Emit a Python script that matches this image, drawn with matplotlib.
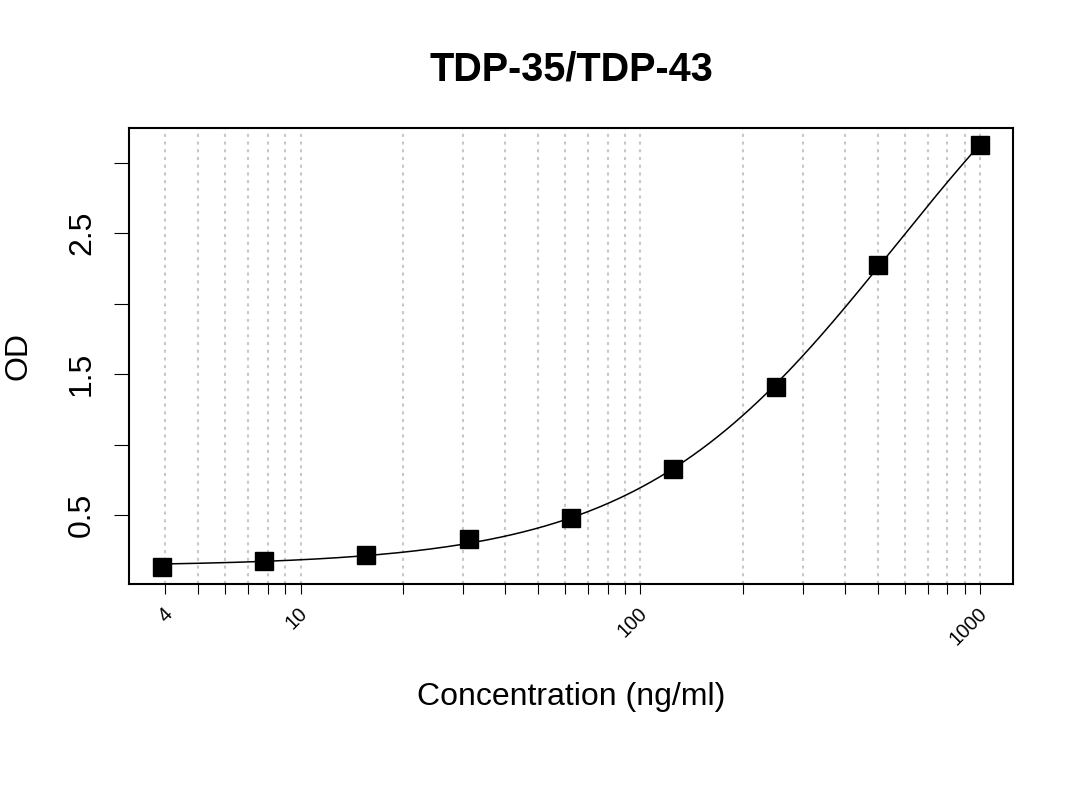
import numpy as np
import matplotlib.pyplot as plt
import matplotlib.transforms as mtrans

plt.rcParams['font.family'] = ['Liberation Sans', 'DejaVu Sans']

conc = [3.9, 7.8, 15.6, 31.25, 62.5, 125, 250, 500, 1000]
od = [0.133, 0.176, 0.218, 0.330, 0.479, 0.831, 1.411, 2.276, 3.126]

grid_x = [4, 5, 6, 7, 8, 9, 10, 20, 30, 40, 50, 60, 70, 80, 90,
          100, 200, 300, 400, 500, 600, 700, 800, 900, 1000]
x_labels = {4: '4', 10: '10', 100: '100', 1000: '1000'}
y_ticks = [0.5, 1.0, 1.5, 2.0, 2.5, 3.0]
y_labels = ['0.5', '', '1.5', '', '2.5', '']


def four_pl(p, x):
    a, b, c, d = p
    return d + (a - d) / (1 + (x / c) ** b)


def fit_4pl(x, y):
    # small Levenberg-Marquardt loop, no scipy needed
    x, y = np.asarray(x, float), np.asarray(y, float)
    p = np.array([y.min(), 1.5, 500.0, 2 * y.max()])
    lam = 1e-2
    for _ in range(500):
        r = y - four_pl(p, x)
        J = np.empty((len(x), 4))
        for k in range(4):
            dp = np.zeros(4)
            dp[k] = 1e-6 * max(abs(p[k]), 1)
            J[:, k] = (four_pl(p + dp, x) - four_pl(p, x)) / dp[k]
        A = J.T @ J
        step = np.linalg.solve(A + lam * np.diag(np.diag(A)), J.T @ r)
        pn = p + step
        if pn[2] > 0 and np.sum((y - four_pl(pn, x)) ** 2) < np.sum(r ** 2):
            p, lam = pn, lam * 0.5
        else:
            lam *= 4
    return p


fig = plt.figure(figsize=(10.8, 8.1), dpi=100)
ax = fig.add_axes([129 / 1080, 1 - 584 / 810, 884 / 1080, 456 / 810])

params = fit_4pl(conc, od)
xs = np.logspace(np.log10(conc[0]), np.log10(conc[-1]), 300)
ax.plot(xs, four_pl(params, xs), color='black', lw=1.1, zorder=3)
ax.plot(conc, od, 's', color='black', ms=12.5, zorder=4)

for g in grid_x:
    ax.axvline(g, color='#c8c8c8', lw=1.5, ls=(0, (1.5, 2.2)), zorder=1)

ax.set_xscale('log')
lo, hi = np.log10(conc[0]), np.log10(conc[-1])
pad = 0.04 * (hi - lo)
ax.set_xlim(10 ** (lo - pad), 10 ** (hi + pad))
ypad = 0.04 * (max(od) - min(od))
ax.set_ylim(min(od) - ypad, max(od) + ypad)

ax.set_xticks(grid_x)
ax.set_xticks([], minor=True)
ax.set_xticklabels([])
ax.tick_params(axis='x', length=7.5, width=0.8)
# rotated labels placed by hand, like text(srt=45) in base R
shift = mtrans.ScaledTranslation(-3 / 100, -20 / 100, fig.dpi_scale_trans)
for g, lab in x_labels.items():
    ax.text(g, 0, lab, transform=ax.get_xaxis_transform() + shift,
            rotation=45, ha='right', va='top', rotation_mode='anchor',
            fontsize=14.5)

ax.set_yticks(y_ticks)
ax.set_yticklabels(y_labels, rotation=90, va='center', fontsize=23)
ax.tick_params(axis='y', length=11, width=0.8, pad=12)
for s in ax.spines.values():
    s.set_linewidth(1.5)

ax.set_title('TDP-35/TDP-43', fontsize=28.5, fontweight='bold', pad=34)
fig.text(571 / 1080, 1 - 705 / 810, 'Concentration (ng/ml)', fontsize=23,
         ha='center', va='baseline')
fig.text(19 / 1080, 1 - 356 / 810, 'OD', fontsize=23, rotation=90,
         ha='center', va='center')

fig.savefig('out.png', dpi=100)
